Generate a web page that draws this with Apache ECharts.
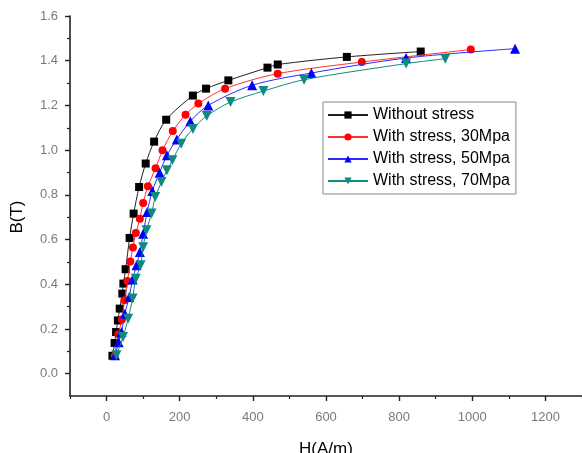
<!DOCTYPE html>
<html>
<head>
<meta charset="utf-8">
<script src="https://cdn.jsdelivr.net/npm/echarts@6/dist/echarts.min.js"></script>
<style>
  html, body { margin: 0; padding: 0; background: #fff; }
  #chart { width: 582px; height: 453px; }
</style>
</head>
<body>
<div id="chart"></div>
<script>
// Magnetisation curves B(H) of the steel under different compressive stresses
const seriesNames = ['Without stress', 'With stress, 30Mpa', 'With stress, 50Mpa', 'With stress, 70Mpa'];

const H0 = [16, 22, 26, 31, 36, 43, 46, 52, 63, 74, 89, 107, 130, 163, 236, 272, 333, 440, 468, 657, 859];
const B0 = [0.080, 0.137, 0.186, 0.238, 0.291, 0.358, 0.403, 0.467, 0.607, 0.716, 0.835, 0.940, 1.038, 1.136, 1.244, 1.275, 1.312, 1.369, 1.383, 1.417, 1.441];

const H30 = [22, 32, 42, 49, 57, 65, 72, 80, 91, 100, 113, 134, 153, 181, 216, 251, 324, 468, 698, 996];
const B30 = [0.079, 0.176, 0.242, 0.328, 0.414, 0.502, 0.564, 0.629, 0.693, 0.763, 0.838, 0.919, 0.999, 1.085, 1.158, 1.208, 1.275, 1.342, 1.394, 1.450];

const H50 = [23, 33, 41, 50, 62, 71, 82, 91, 100, 111, 125, 145, 165, 192, 229, 278, 398, 560, 819, 1117];
const B50 = [0.082, 0.140, 0.186, 0.268, 0.343, 0.421, 0.485, 0.544, 0.626, 0.723, 0.817, 0.899, 0.977, 1.048, 1.129, 1.200, 1.290, 1.345, 1.412, 1.454];

const H70 = [27, 45, 59, 71, 80, 93, 100, 109, 123, 133, 150, 165, 180, 204, 236, 274, 339, 429, 540, 819, 926];
const B70 = [0.082, 0.164, 0.246, 0.336, 0.425, 0.485, 0.566, 0.641, 0.716, 0.790, 0.857, 0.910, 0.955, 1.029, 1.095, 1.153, 1.215, 1.264, 1.315, 1.387, 1.409];

// axis ticks
const xMajor = [0, 200, 400, 600, 800, 1000, 1200];
const xMinor = [-100, 100, 300, 500, 700, 900, 1100, 1300];
const yMajor = [0, 0.2, 0.4, 0.6, 0.8, 1.0, 1.2, 1.4, 1.6];
const yMinor = [0.1, 0.3, 0.5, 0.7, 0.9, 1.1, 1.3, 1.5];

const pairs = (xs, ys) => xs.map((x, i) => [x, ys[i]]);

const styles = [
  { color: '#000000', line: '#202020', symbol: 'rect', size: 8, rotate: 0 },
  { color: '#ff0000', line: '#ff3030', symbol: 'circle', size: 8, rotate: 0 },
  { color: '#0000ff', line: '#2a2aff', symbol: 'triangle', size: 10, rotate: 0 },
  { color: '#0f8a80', line: '#0f8a80', symbol: 'triangle', size: 10, rotate: 180 }
];
const dataSets = [pairs(H0, B0), pairs(H30, B30), pairs(H50, B50), pairs(H70, B70)];

const FONT = 'Liberation Sans, Arial, sans-serif';
const axisLineStyle = { color: '#222', width: 1.6 };
const labelStyle = { color: '#7a7a7a', fontSize: 13, fontFamily: FONT };

const chart = echarts.init(document.getElementById('chart'), null, { renderer: 'canvas' });
chart.setOption({
  animation: false,
  backgroundColor: '#ffffff',
  grid: { left: 70, top: 16, right: 0, bottom: 57, containLabel: false, outerBoundsMode: 'none' },
  legend: {
    orient: 'vertical',
    left: 323,
    top: 102,
    padding: [4, 6, 4, 4],
    itemWidth: 40,
    itemHeight: 9,
    itemGap: 4,
    borderColor: '#888',
    borderWidth: 1,
    backgroundColor: '#fff',
    textStyle: { color: '#000', fontSize: 16, lineHeight: 18, fontFamily: FONT },
    data: seriesNames
  },
  graphic: [{
    type: 'text',
    x: 17, y: 217,
    rotation: Math.PI / 2,
    style: { text: 'B(T)', fill: '#000', font: '17px ' + FONT, align: 'center', verticalAlign: 'middle' }
  }],
  xAxis: [{
    type: 'value', min: -100, max: 1300,
    name: 'H(A/m)', nameLocation: 'middle', nameGap: 45,
    nameTextStyle: { color: '#000', fontSize: 17, fontFamily: FONT },
    axisLine: { show: true, onZero: false, lineStyle: axisLineStyle },
    axisTick: { show: true, inside: false, length: 5, lineStyle: { color: '#222', width: 1.4 }, customValues: xMajor },
    axisLabel: Object.assign({ margin: 15, customValues: xMajor, formatter: v => String(v) }, labelStyle),
    splitLine: { show: false }
  }, {
    type: 'value', min: -100, max: 1300, position: 'bottom',
    axisLine: { show: false, onZero: false },
    axisTick: { show: true, inside: false, length: 3, lineStyle: { color: '#222', width: 1.2 }, customValues: xMinor },
    axisLabel: { show: false },
    splitLine: { show: false }
  }],
  yAxis: [{
    type: 'value', min: -0.1, max: 1.6,
    axisLine: { show: true, onZero: false, lineStyle: axisLineStyle },
    axisTick: { show: true, inside: false, length: 5, lineStyle: { color: '#222', width: 1.4 }, customValues: yMajor },
    axisLabel: Object.assign({ margin: 12, customValues: yMajor, formatter: v => v.toFixed(1) }, labelStyle),
    splitLine: { show: false }
  }, {
    type: 'value', min: -0.1, max: 1.6, position: 'left',
    axisLine: { show: false, onZero: false },
    axisTick: { show: true, inside: false, length: 3, lineStyle: { color: '#222', width: 1.2 }, customValues: yMinor },
    axisLabel: { show: false },
    splitLine: { show: false }
  }],
  series: dataSets.map((d, i) => ({
    name: seriesNames[i],
    type: 'line',
    data: d,
    smooth: 0.3,
    symbol: styles[i].symbol,
    symbolSize: styles[i].size,
    symbolRotate: styles[i].rotate,
    showAllSymbol: true,
    itemStyle: { color: styles[i].color },
    lineStyle: { color: styles[i].line, width: 1 },
    z: 2 + i
  }))
});
</script>
</body>
</html>
